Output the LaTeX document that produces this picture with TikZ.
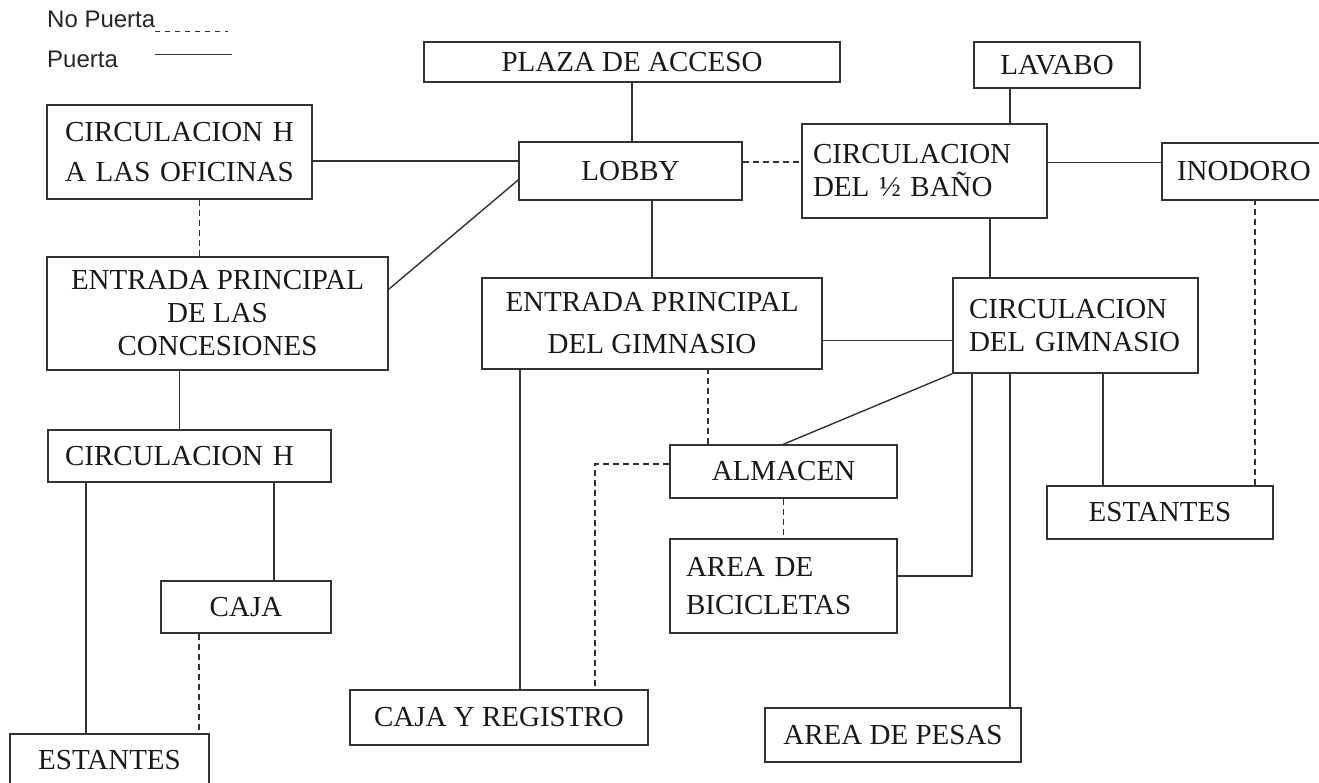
\documentclass[tikz,border=0pt]{standalone}
\usepackage{fontspec}
\setmainfont{Liberation Serif}
\newfontfamily\legendfont{Liberation Sans}
\usetikzlibrary{positioning}

\begin{document}
\begin{tikzpicture}[x=1pt, y=-1pt,
    box/.style={draw=black!80, line width=1.6pt, inner sep=0pt, text=black!90, align=center,
      font=\fontsize{29}{33}\selectfont},
    lbox/.style={box, align=left, inner xsep=16pt},
    door/.style={draw=black!80, line width=1.4pt},
    nodoor/.style={door, dash pattern=on 6pt off 4pt},
    legend/.style={font=\legendfont\fontsize{24}{28}\selectfont, anchor=base west, inner sep=0pt, text=black!85}]

    \useasboundingbox (0,0) rectangle (1319,782);

    \node[legend] (nop) at (47,27) {No Puerta};
    \node[legend] (pu) at (47,67) {Puerta};
    \draw[door, line width=1pt, dash pattern=on 5pt off 5pt] ([yshift=-4pt]nop.base east) -- ++(73,0);
    \draw[door, line width=1pt] ([yshift=-27pt]nop.base east) -- ++(77,0);

    \node[box, minimum width=416pt, minimum height=40pt] (plaza) at (632,62) {PLAZA DE ACCESO};
    \node[box, minimum width=166pt, minimum height=46pt] (lavabo) at (1057,65) {LAVABO};
    \node[lbox, inner xsep=18pt, text width=229pt, minimum height=94pt, font=\fontsize{29}{40}\selectfont] (ofic) at (179.5,152) {CIRCULACION H\\A LAS OFICINAS};
    \node[box, minimum width=223pt, minimum height=58pt] (lobby) at (630.5,171) {LOBBY};
    \node[lbox, inner xsep=11pt, text width=223pt, minimum height=94pt] (bano) at (924.5,171) {CIRCULACION\\DEL ½ BAÑO};
    \node[lbox, inner xsep=15pt, text width=138pt, minimum height=57pt] (inodoro) at (1246,171.5) {INODORO};
    \node[box, minimum width=341pt, minimum height=113pt] (conc) at (217.5,313.5) {ENTRADA PRINCIPAL\\DE LAS\\CONCESIONES};
    \node[box, minimum width=340pt, minimum height=91pt, font=\fontsize{29}{42}\selectfont] (egym) at (652,323.5) {ENTRADA PRINCIPAL\\DEL GIMNASIO};
    \node[lbox, text width=213pt, minimum height=95pt] (cgym) at (1075.5,325.5) {CIRCULACION\\DEL GIMNASIO};
    \node[lbox, inner xsep=17pt, text width=249pt, minimum height=52pt] (circh) at (189.5,456) {CIRCULACION H};
    \node[box, minimum width=227pt, minimum height=53pt] (almacen) at (783.5,471.5) {ALMACEN};
    \node[box, minimum width=226pt, minimum height=53pt] (estr) at (1160,512.5) {ESTANTES};
    \node[lbox, text width=195pt, minimum height=94pt, font=\fontsize{29}{38}\selectfont] (bici) at (783.5,586) {AREA DE\\BICICLETAS};
    \node[box, minimum width=170pt, minimum height=52pt] (caja) at (246,607) {CAJA};
    \node[box, minimum width=298pt, minimum height=55pt] (cajareg) at (499,717.5) {CAJA Y REGISTRO};
    \node[box, minimum width=256pt, minimum height=54pt] (pesas) at (893,735) {AREA DE PESAS};
    \node[box, minimum width=199pt, minimum height=52pt] (estl) at (109.5,760) {ESTANTES};

    \draw[door] (plaza.south) -- (plaza.south |- lobby.north);
    \draw[door] ([xshift=-47pt]lavabo.south) coordinate (lv) -- (lv |- bano.north);
    \draw[door] ([yshift=10pt]lobby.west) coordinate (lw) -- (lw -| ofic.east);
    \draw[nodoor] ([yshift=9pt]lobby.east) coordinate (le) -- (le -| bano.west);
    \draw[door] ([yshift=9pt]inodoro.west) coordinate (iw) -- (iw -| bano.east);
    \draw[door] ([yshift=-9pt]lobby.west) -- ([yshift=-33pt]conc.north east);
    \draw[nodoor] ([xshift=20pt]ofic.south) coordinate (os) -- (os |- conc.north);
    \draw[door] (egym.north) -- (egym.north |- lobby.south);
    \draw[door] ([xshift=65.5pt]bano.south) coordinate (bs) -- (bs |- cgym.north);
    \draw[door] ([yshift=-17pt]egym.east) coordinate (ee) -- (ee -| cgym.west);
    \draw[nodoor] ([xshift=95pt]estr.north) coordinate (en) -- (en |- inodoro.south);
    \draw[door] ([xshift=-57pt]estr.north) coordinate (ec) -- (ec |- cgym.south);
    \draw[door] ([xshift=-10pt]circh.north) coordinate (cn) -- (cn |- conc.south);
    \draw[door] ([xshift=-23.5pt]estl.north) coordinate (sn) -- (sn |- circh.south);
    \draw[door] ([xshift=28pt]caja.north) coordinate (kn) -- (kn |- circh.south);
    \draw[nodoor] ([xshift=-47pt]caja.south) coordinate (ks) -- (ks |- estl.north);
    \draw[door] ([xshift=21pt]cajareg.north) coordinate (rn) -- (rn |- egym.south);
    \draw[nodoor] ([xshift=-75.5pt]almacen.north) coordinate (an) -- (an |- egym.south);
    \draw[door] (cgym.south west) -- (almacen.north);
    \draw[nodoor] ([yshift=7.5pt]almacen.west) -| ([xshift=96pt]cajareg.north);
    \draw[nodoor] (almacen.south) -- (bici.north);
    \draw[door] ([yshift=10pt]bici.east) -| ([xshift=-103.5pt]cgym.south);
    \draw[door] ([xshift=117pt]pesas.north) coordinate (pn) -- (pn |- cgym.south);
\end{tikzpicture}
\end{document}
